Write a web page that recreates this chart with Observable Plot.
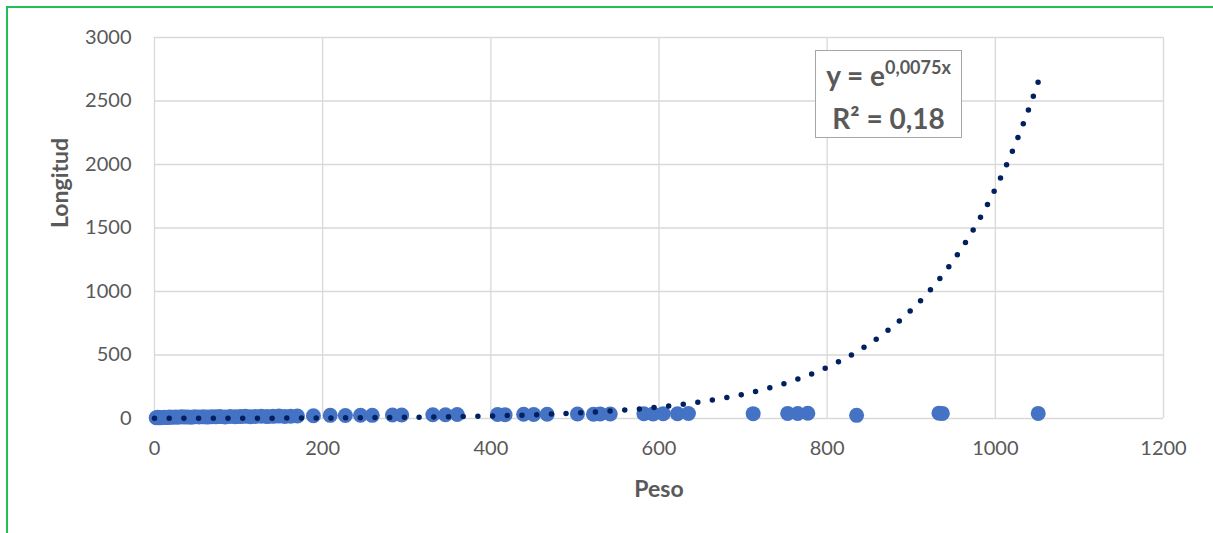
<!DOCTYPE html>
<html>
<head>
<meta charset="utf-8">
<script src="https://cdn.jsdelivr.net/npm/d3@7"></script>
<script src="https://cdn.jsdelivr.net/npm/@observablehq/plot@0.6"></script>
<style>
  html, body { margin: 0; padding: 0; background: #fff; }
  #wrap { position: relative; width: 1213px; height: 533px; overflow: hidden; font-family: Lato, "Open Sans", sans-serif; }
  #frame { position: absolute; left: 6px; top: 6px; width: 1400px; height: 800px; border-left: 2px solid #22bf55; border-top: 2px solid #22bf55; }
  #eq { position: absolute; left: 815px; top: 50px; width: 147px; height: 88px; box-sizing: border-box;
        border: 1.5px solid #a6a6a6; background: #fff; color: #595959; font-weight: bold; font-size: 28px;
        text-align: center; line-height: 39px; padding-top: 5px; white-space: nowrap; }
  #eq sup { font-size: 18px; vertical-align: 0; position: relative; top: -12px; }
  svg { position: absolute; left: 0; top: 0; }
</style>
</head>
<body>
<div id="wrap">
  <div id="frame"></div>
</div>
<script>
// Scatter data: Peso (x) and Longitud (y)
const peso = [2, 4, 6, 9, 12, 15, 18, 21, 25, 28, 32, 36, 40, 44, 48, 53, 58, 63, 68, 73, 78, 84, 90, 96, 102, 108, 114, 120, 127, 134, 141, 148, 155, 162,
  170, 189, 209, 227, 245, 259, 283, 294, 331, 346, 360, 408, 417, 439, 451, 467, 503, 522, 530, 542, 582, 593, 605, 622, 635,
  712, 753, 765, 777, 835, 933, 937, 1051];
const longitud = [6, 9, 5, 8, 10, 7, 11, 9, 12, 10, 13, 11, 12, 10, 14, 12, 13, 11, 14, 13, 15, 12, 16, 14, 15, 17, 14, 16, 18, 15, 17, 19, 16, 18,
  20, 22, 25, 24, 26, 25, 28, 27, 30, 29, 31, 32, 30, 33, 32, 34, 35, 34, 36, 35, 37, 36, 38, 37, 39,
  38, 40, 39, 41, 25, 42, 40, 40];

// Exponential trendline shown on the chart: y = e^(0.0075x)
const trendCoef = 0.0075;
const trendStart = 0;
const trendEnd = 1053;

// Axis ticks
const xTicks = [0, 200, 400, 600, 800, 1000, 1200];
const yTicks = [0, 500, 1000, 1500, 2000, 2500, 3000];

const points = peso.map((p, i) => ({peso: p, longitud: longitud[i]}));
const trend = d3.range(trendStart, trendEnd + 0.01, 0.5).map(x => ({peso: x, longitud: Math.exp(trendCoef * x)}));

const chart = Plot.plot({
  width: 1213,
  height: 533,
  marginLeft: 154,
  marginRight: 50,
  marginTop: 37,
  marginBottom: 115,
  style: {fontFamily: "Lato, 'Open Sans', sans-serif", fontSize: "20px", color: "#595959", background: "transparent"},
  x: {domain: [0, 1200]},
  y: {domain: [0, 3000]},
  marks: [
    Plot.gridX(xTicks, {stroke: "#d9d9d9", strokeOpacity: 1, strokeWidth: 1.3}),
    Plot.gridY(yTicks, {stroke: "#d9d9d9", strokeOpacity: 1, strokeWidth: 1.3}),
    Plot.axisX(xTicks, {tickSize: 0, tickPadding: 22, label: null, tickFormat: d => String(d)}),
    Plot.axisY(yTicks, {tickSize: 0, tickPadding: 23, label: null, tickFormat: d => String(d)}),
    Plot.dot(points, {x: "peso", y: "longitud", r: 7.5, fill: "#4472c4", stroke: null}),
    Plot.line(trend, {x: "peso", y: "longitud", stroke: "#002060", strokeWidth: 5.5, strokeDasharray: "0 14.7", strokeLinecap: "round"}),
    Plot.text(["Peso"], {frameAnchor: "bottom", dy: 78, fontWeight: "bold", fontSize: 23, fill: "#595959"}),
    Plot.text(["Longitud"], {frameAnchor: "left", dx: -94, rotate: -90, fontWeight: "bold", fontSize: 23, fill: "#595959"})
  ]
});

const wrap = document.getElementById("wrap");
wrap.appendChild(chart);
const eq = document.createElement("div");
eq.id = "eq";
eq.innerHTML = "y = e<sup>0,0075x</sup><br>R² = 0,18";
wrap.appendChild(eq);
</script>
</body>
</html>
